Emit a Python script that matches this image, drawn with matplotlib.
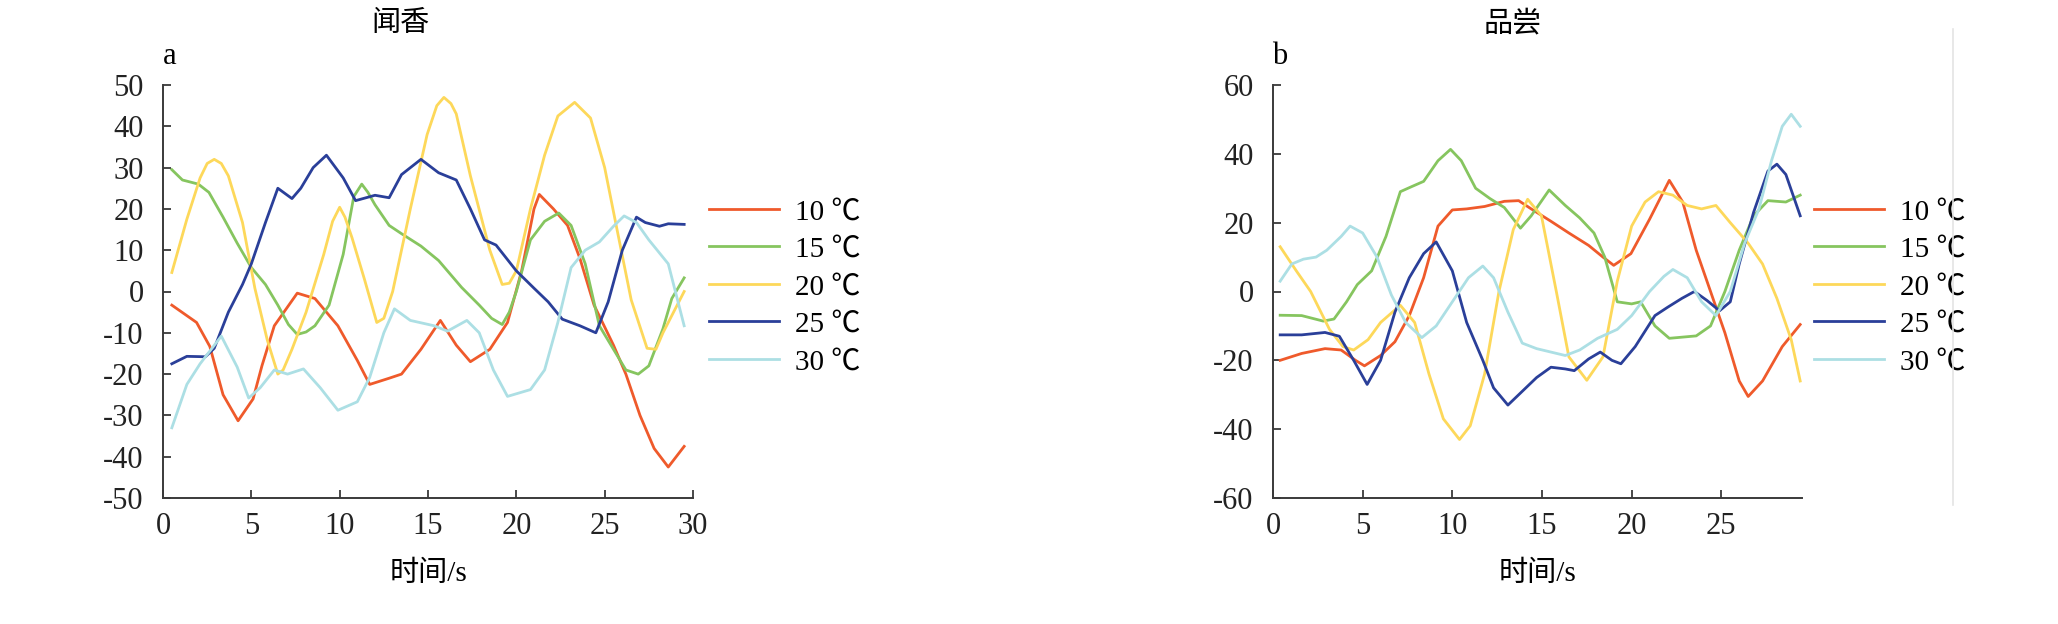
import matplotlib
matplotlib.use("Agg")
import matplotlib.pyplot as plt
from matplotlib.lines import Line2D

plt.rcParams['font.family'] = ['Liberation Serif', 'Noto Sans CJK SC', 'DejaVu Serif']
plt.rcParams['axes.unicode_minus'] = False

labels = ['10 ℃', '15 ℃', '20 ℃', '25 ℃', '30 ℃']
colors = ['#ef5a2b', '#86c55f', '#fdd85a', '#2a3f99', '#acdfe4']

# ---- panel a : 闻香 ----
a_t10 = [0.5, 1.9, 2.65, 3.4, 4.25, 5.1, 5.6, 6.3, 7.6, 8.6, 9.9, 11, 11.7, 12.8, 13.5, 14.6, 15.7, 16.6, 17.4,
         18.5, 19.5, 20.3, 21, 21.3, 22.1, 22.9, 23.6, 24.4, 25.5, 26.2, 27, 27.8, 28.6, 29.5]
a_v10 = [-3.3, -7.5, -13.3, -25, -31.3, -26, -18, -8.3, -0.4, -1.7, -8.3, -16.7, -22.5, -21, -20, -14, -7, -13, -17,
         -14, -7.5, 5, 20, 23.5, 20, 16, 8, -3.3, -13, -20, -30, -38, -42.5, -37.5]
a_t15 = [0.5, 1.1, 2, 2.6, 3.4, 4.2, 5, 5.8, 6.5, 7.1, 7.6, 8.1, 8.6, 9.4, 10.2, 10.8, 11.25, 11.6, 12, 12.8, 13.5,
         14.6, 15.6, 16.9, 17.9, 18.6, 19.2, 19.6, 20, 20.8, 21.6, 22.4, 23.1, 23.9, 24.7, 25.5, 26.2, 26.9, 27.5,
         28.3, 28.8, 29.5]
a_v15 = [29.5, 27, 26, 24, 18, 11.7, 5.8, 1.7, -3.3, -8, -10.4, -9.8, -8.3, -3.3, 9, 23, 26, 24, 21, 16, 14,
         11, 7.5, 1, -3.3, -6.5, -8, -5, 0, 12.5, 17, 19, 16, 6.7, -8.3, -14, -19, -20, -18,
         -9, -1.7, 3.3]
a_t20 = [0.5, 1.35, 2.1, 2.5, 2.9, 3.3, 3.7, 4.5, 5.2, 5.9, 6.5, 6.8, 7.3, 8.1, 9.1, 9.6, 10, 10.3, 10.7, 11.4,
         12.1, 12.5, 13, 14, 14.95, 15.5, 15.9, 16.3, 16.6, 17.4, 18.5, 19.2, 19.6, 20, 20.8, 21.6, 22.35, 23.3,
         24.2, 25, 25.7, 26.5, 27.4, 27.9, 28.3, 29.5]
a_v20 = [4.6, 17.5, 27.5, 31, 32, 31, 28, 16.7, 0.8, -11.7, -20, -19, -14, -5, 9, 17, 20.4, 18, 13, 3,
         -7.5, -6.5, 0, 20, 38, 45, 47, 45.5, 43, 28, 10, 1.7, 2, 5, 20, 33, 42.5, 45.8,
         42, 30, 15, -2, -13.75, -14, -10, 0]
a_t25 = [0.5, 1.35, 2.4, 2.9, 3.7, 4.5, 5, 5.8, 6.5, 7.3, 7.8, 8.5, 9.25, 10.2, 10.9, 12, 12.8, 13.5, 14.6, 15.6,
         16.6, 17.4, 18.2, 18.85, 20, 21, 21.8, 22.6, 23.6, 24.5, 25.2, 26, 26.8, 27.3, 28.1, 28.6, 29.5]
a_v25 = [-17.5, -15.7, -15.8, -13.75, -5, 1.7, 6.7, 16.7, 25, 22.5, 25, 30, 33, 27.5, 22, 23.3, 22.7, 28.3, 32, 28.75,
         27, 20, 12.5, 11.25, 5, 0.8, -2.5, -6.7, -8.3, -10, -2.5, 10, 18, 16.7, 15.8, 16.4, 16.25]
a_t30 = [0.5, 1.35, 2.1, 3.3, 4.2, 4.85, 5.5, 6.3, 7.05, 7.95, 8.9, 9.9, 11, 11.7, 12.5, 13.1, 14, 15.35, 16.1,
         17.2, 17.9, 18.7, 19.5, 20.8, 21.6, 22.35, 23.1, 23.9, 24.7, 25.5, 26.1, 26.8, 27.5, 28.6, 29.5]
a_v30 = [-33, -22.5, -17.5, -10.8, -18.3, -25.8, -23.3, -19, -20, -18.75, -23.3, -28.75, -26.7, -20.8, -10, -4.2, -7,
         -8.3, -9.6, -7, -10, -19, -25.4, -23.75, -19, -7.5, 5.8, 10, 12, 15.8, 18.3, 16.7, 12.5, 6.7, -8.3]

# ---- panel b : 品尝 ----
b_t10 = [0.4, 1.6, 2.9, 3.8, 4.6, 5.1, 6, 6.8, 7.6, 8.4, 9.2, 10, 10.8, 11.8, 12.9, 13.7, 14.4, 15.5, 16.5, 17.6,
         18.4, 19, 19.96, 21, 22.1, 22.85, 23.6, 24.4, 25.2, 26, 26.5, 27.3, 28.4, 29.4]
b_v10 = [-20, -18, -16.6, -17, -20, -21.6, -18.6, -14.6, -7, 4, 19, 23.7, 24, 24.7, 26.2, 26.4, 24, 20.4, 17, 13.4,
         10, 7.6, 11, 21, 32.3, 26, 12, 0, -12, -26, -30.5, -26, -16, -9.6]
b_t15 = [0.4, 1.6, 2.8, 3.4, 4.1, 4.7, 5.5, 6.3, 7.1, 7.7, 8.4, 9.2, 9.9, 10.5, 11.3, 12.1, 12.9, 13.8, 14.4, 15.4,
         16.3, 17.1, 17.9, 18.5, 19.2, 20, 20.5, 21.3, 22.1, 23.6, 24.4, 25.2, 26, 26.8, 27.6, 28.6, 29.4]
b_v15 = [-6.9, -7, -8.6, -8, -3, 2, 6, 16, 29, 30.4, 32, 38, 41.3, 38, 30, 27, 24.4, 18.4, 22, 29.5,
         25, 21.4, 17, 10, -3, -3.6, -3, -10, -13.6, -12.9, -10, 0, 12, 22, 26.4, 26, 28]
b_t20 = [0.4, 1.3, 2.1, 3.15, 3.9, 4.5, 5.3, 6, 7.1, 7.9, 8.7, 9.5, 10.4, 11, 11.8, 12.6, 13.4, 14.2, 14.97, 15.8,
         16.5, 17.5, 18.4, 19.2, 20, 20.75, 21.5, 22.3, 23.1, 23.9, 24.7, 25.5, 26.5, 27.3, 28.1, 28.9, 29.4]
b_v20 = [13, 6, 0, -11, -16, -17, -14, -9, -4, -9, -24, -37, -43, -39, -24, 0, 18, 26.8, 22, 0,
         -19, -25.8, -19, 3, 19, 26, 29, 28, 25, 24, 25, 20, 14, 8, -2, -14, -26]
b_t25 = [0.4, 1.6, 2.9, 3.7, 4.5, 5.25, 6, 6.8, 7.6, 8.4, 9.1, 10, 10.8, 11.7, 12.3, 13.1, 13.9, 14.7, 15.5, 16.3,
         16.8, 17.6, 18.25, 18.9, 19.4, 20.2, 21.3, 22, 22.8, 23.5, 24.2, 24.9, 25.5, 26, 26.8, 27.6, 28.1, 28.6, 29.4]
b_v25 = [-12.6, -12.6, -11.9, -13, -20, -27, -20, -6, 4, 11, 14.4, 6, -9, -20, -28, -33, -29, -25, -22, -22.5,
         -23, -19.6, -17.6, -20, -21, -16, -7, -4.6, -2, 0, -2.6, -5.6, -3, 8, 23, 35, 37, 34, 22]
b_t30 = [0.4, 1.05, 1.7, 2.4, 3, 3.8, 4.3, 5, 5.8, 6.6, 7.4, 8.3, 9.1, 10, 10.9, 11.7, 12.3, 13.1, 13.9, 14.7,
         15.5, 16.3, 17.1, 18.1, 19.2, 20, 21, 21.8, 22.3, 23.1, 23.9, 24.7, 25.5, 26.3, 27.1, 27.8, 28.4, 28.9, 29.4]
b_v30 = [3, 8, 9.4, 10, 12, 16, 19, 17, 10, -1, -9, -13.4, -10, -3, 4, 7.4, 4, -6, -15, -16.6,
         -17.6, -18.6, -17, -13.6, -11, -7, 0, 4.4, 6.4, 4, -3, -7, 0, 14, 24, 38, 48, 51.5, 48]

W, H = 2058, 624
fig = plt.figure(figsize=(W / 100, H / 100), dpi=100)

fs = 22
spine_c = '#3a3a3a'


def style_axis(ax):
    for s in ['top', 'right']:
        ax.spines[s].set_visible(False)
    for s in ['left', 'bottom']:
        ax.spines[s].set_color(spine_c)
        ax.spines[s].set_linewidth(1.4)
    ax.tick_params(direction='in', length=6, width=1.3, color=spine_c, labelcolor='#222222', labelsize=fs)
    ax.tick_params(axis='x', pad=10)
    ax.tick_params(axis='y', pad=14)


panels = [
    (163, 693, 0, 30, -50, 50, 10, [0, 5, 10, 15, 20, 25, 30], '闻香', 'a', 400,
     [(a_t10, a_v10), (a_t15, a_v15), (a_t20, a_v20), (a_t25, a_v25), (a_t30, a_v30)], 709),
    (1273, 1802, 0, 29.5, -60, 60, 20, [0, 5, 10, 15, 20, 25], '品尝', 'b', 1513,
     [(b_t10, b_v10), (b_t15, b_v15), (b_t20, b_v20), (b_t25, b_v25), (b_t30, b_v30)], 1814),
]

for x0, x1, xmin, xmax, ymin, ymax, ystep, xt, title, tag, title_x, series, legx in panels:
    ax = fig.add_axes([x0 / W, 1 - 498 / H, (x1 - x0) / W, 413 / H])
    ax.set_facecolor('none')
    for (tt, vv), c, lab in zip(series, colors, labels):
        ax.plot(tt, vv, color=c, lw=2.0, label=lab, solid_joinstyle='round')
    ax.set_xlim(xmin, xmax)
    ax.set_ylim(ymin, ymax)
    ax.set_xticks(xt)
    ax.set_yticks(list(range(ymin, ymax + 1, ystep)))
    style_axis(ax)
    ax.set_xlabel('时间/s', fontsize=fs - 1, labelpad=14)
    fig.text(title_x / W, 1 - 24 / H, title, ha='center', va='center', fontsize=fs - 1)
    fig.text((x0 + 7) / W, 1 - 56 / H, tag, ha='center', va='center', fontsize=fs)
    ax.legend(loc='center left', bbox_to_anchor=(legx / W, 1 - 287 / H), bbox_transform=fig.transFigure,
              frameon=False, fontsize=fs - 1, handlelength=2.4, handletextpad=0.55, labelspacing=0.38,
              borderpad=0, borderaxespad=0)

# faint scan border on the right
fig.add_artist(Line2D([1953 / W, 1953 / W], [1 - 505 / H, 1 - 29 / H], color='#e4e4e4', lw=1.2))

fig.savefig('out.png', dpi=100, facecolor='white')
